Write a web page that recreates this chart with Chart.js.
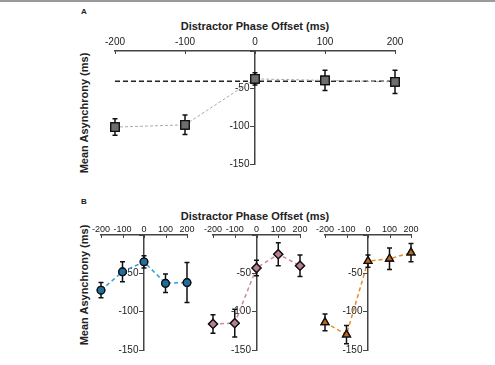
<!DOCTYPE html>
<html>
<head>
<meta charset="utf-8">
<script src="https://cdn.jsdelivr.net/npm/chart.js@4"></script>
<style>
  html, body { margin: 0; padding: 0; background: #fff; }
  body { width: 495px; height: 365px; position: relative; overflow: hidden;
         border-top: 2px solid #9a9a9a; box-sizing: border-box;
         font-family: 'Liberation Sans', Arial, sans-serif; color: #222; }
  canvas { position: absolute; }
  .txt { position: absolute; font-weight: bold; white-space: nowrap; transform: translate(-50%, -50%); }
  .panel { font-size: 8px; }
  .title { font-size: 11px; }
  .ylab { font-size: 11px; transform: translate(-50%, -50%) rotate(-90deg); }
</style>
</head>
<body>
<div class="txt panel" style="left:84px; top:9px;">A</div>
<div class="txt title" style="left:255px; top:24px;">Distractor Phase Offset (ms)</div>
<div class="txt ylab" style="left:84px; top:111px;">Mean Asynchrony (ms)</div>
<div class="txt panel" style="left:84px; top:199px;">B</div>
<div class="txt title" style="left:255px; top:214px;">Distractor Phase Offset (ms)</div>
<div class="txt ylab" style="left:84px; top:283px;">Mean Asynchrony (ms)</div>

<canvas id="chartA" width="320" height="141" style="left:95px; top:31px;"></canvas>
<canvas id="chartB1" width="126" height="143" style="left:81px; top:215px;"></canvas>
<canvas id="chartB2" width="127" height="143" style="left:193px; top:215px;"></canvas>
<canvas id="chartB3" width="126" height="143" style="left:305px; top:215px;"></canvas>

<script>
// phase offsets (ms)
const offsets = [-200, -100, 0, 100, 200];
const xTicks = [-200, -100, 0, 100, 200];

// panel A: all participants
const meanA = [-101, -98, -37, -39, -41];
const errA = [11, 13, 8, 13.5, 15.5];
const baselineA = [-40, -40];

// panel B: three groups
const meanB1 = [-72, -48, -35, -63, -62];
const errB1 = [10, 13, 8, 12, 26];
const meanB2 = [-116, -115, -43, -25, -40];
const errB2 = [12, 18, 10, 15, 14];
const meanB3 = [-114, -130, -34, -31, -23];
const errB3 = [11, 12, 8, 14, 12];

Chart.defaults.font.family = "'Liberation Sans', Arial, sans-serif";
Chart.defaults.font.size = 10;
Chart.defaults.color = '#222';

const toPoints = (xs, ys) => xs.map((x, i) => ({ x: x, y: ys[i] }));

// error bars, then markers redrawn on top
const errorBars = {
    id: 'errorBars',
    afterDatasetsDraw(chart) {
        const ctx = chart.ctx;
        const yScale = chart.scales.y;
        chart.data.datasets.forEach((ds, di) => {
            if (!ds.errors) return;
            const meta = chart.getDatasetMeta(di);
            ctx.save();
            ctx.strokeStyle = '#111';
            ctx.lineWidth = 1.5;
            meta.data.forEach((pt, i) => {
                const v = ds.data[i].y;
                const top = yScale.getPixelForValue(v + ds.errors[i]);
                const bot = yScale.getPixelForValue(v - ds.errors[i]);
                ctx.beginPath();
                ctx.moveTo(pt.x, top); ctx.lineTo(pt.x, bot);
                ctx.moveTo(pt.x - 2.5, top); ctx.lineTo(pt.x + 2.5, top);
                ctx.moveTo(pt.x - 2.5, bot); ctx.lineTo(pt.x + 2.5, bot);
                ctx.stroke();
            });
            meta.data.forEach(pt => pt.draw(ctx, chart.chartArea));
            ctx.restore();
        });
    }
};

// small x ticks pointing into the plot
const innerTicks = {
    id: 'innerTicks',
    afterDraw(chart) {
        const ctx = chart.ctx;
        const xs = chart.scales.x;
        ctx.save();
        ctx.strokeStyle = '#444';
        ctx.lineWidth = 1;
        xTicks.forEach(t => {
            const px = Math.round(xs.getPixelForValue(t)) + 0.5;
            ctx.beginPath();
            ctx.moveTo(px, xs.bottom);
            ctx.lineTo(px, xs.bottom + 3);
            ctx.stroke();
        });
        ctx.restore();
    }
};

function makeChart(id, datasets, labelPad, xFontSize) {
    return new Chart(document.getElementById(id), {
        type: 'line',
        data: { datasets: datasets },
        options: {
            responsive: false,
            animation: false,
            layout: { padding: { left: 20, right: 20, top: 0, bottom: 10 } },
            plugins: { legend: { display: false }, tooltip: { enabled: false } },
            scales: {
                x: {
                    type: 'linear',
                    position: 'top',
                    min: -200,
                    max: 200,
                    afterBuildTicks: (scale) => { scale.ticks = xTicks.map(v => ({ value: v })); },
                    afterFit: (scale) => { scale.height = 18; },
                    grid: { display: true, drawOnChartArea: false, drawTicks: false },
                    border: { color: '#444', width: 1.5 },
                    ticks: {
                        autoSkip: false, maxRotation: 0, minRotation: 0,
                        padding: labelPad, color: '#222', font: { size: xFontSize }
                    }
                },
                y: {
                    type: 'linear',
                    position: { x: 0 },
                    min: -150,
                    max: 0,
                    grid: { display: true, drawOnChartArea: false, drawTicks: true, tickLength: 4, color: '#444' },
                    border: { color: '#444', width: 1.5 },
                    ticks: {
                        stepSize: 50,
                        color: '#222',
                        // labels sit right-aligned on the axis line, so push them off with spaces
                        callback: (v) => (v === 0 ? '' : v + '\u00a0\u00a0')
                    }
                }
            }
        },
        plugins: [errorBars, innerTicks]
    });
}

function groupSet(means, errs, line, fill, style, radius) {
    return {
        data: toPoints(offsets, means),
        errors: errs,
        borderColor: line,
        borderWidth: 1.5,
        borderDash: [4, 3],
        pointStyle: style,
        pointRadius: radius,
        pointBackgroundColor: fill,
        pointBorderColor: '#111',
        pointBorderWidth: 1.3,
        clip: false,
        order: 1
    };
}

makeChart('chartA', [
    {
        data: toPoints([-200, 200], baselineA),
        borderColor: '#222',
        borderWidth: 1.5,
        borderDash: [5, 3],
        pointRadius: 0,
        clip: false,
        order: 2
    },
    {
        data: toPoints(offsets, meanA),
        errors: errA,
        borderColor: '#aaaaaa',
        borderWidth: 1,
        borderDash: [3, 2],
        pointStyle: 'rect',
        pointRadius: 6,
        pointBackgroundColor: '#6e6e6e',
        pointBorderColor: '#111',
        pointBorderWidth: 1.3,
        clip: false,
        order: 1
    }
], 3, 10);

makeChart('chartB1', [groupSet(meanB1, errB1, '#3a9ad5', '#1e6fa0', 'circle', 3.8)], 0, 9);
makeChart('chartB2', [groupSet(meanB2, errB2, '#c88aa5', '#b77f96', 'rectRot', 4.5)], 0, 9);
makeChart('chartB3', [groupSet(meanB3, errB3, '#e48a2c', '#c0651c', 'triangle', 4.5)], 0, 9);
</script>
</body>
</html>
